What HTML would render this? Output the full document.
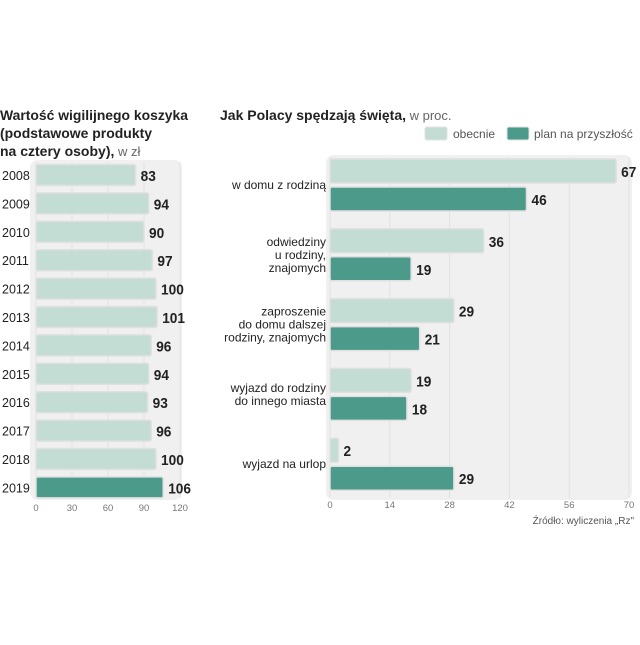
<!DOCTYPE html>
<html><head><meta charset="utf-8"><style>
body{margin:0;background:#fff;font-family:"Liberation Sans","DejaVu Sans",sans-serif;}
</style></head><body>
<svg width="640" height="640" viewBox="0 0 640 640" xmlns="http://www.w3.org/2000/svg">
<g font-size="14" fill="#222">
<text x="0" y="120" font-weight="bold" textLength="188" lengthAdjust="spacingAndGlyphs">Wartość wigilijnego koszyka</text>
<text x="0" y="138" font-weight="bold" textLength="152" lengthAdjust="spacingAndGlyphs">(podstawowe produkty</text>
<text x="0" y="156"><tspan font-weight="bold">na cztery osoby),</tspan><tspan fill="#666" font-size="13"> w zł</tspan></text>
</g>
<g>
<text x="220" y="120" font-size="14" fill="#222"><tspan font-weight="bold">Jak Polacy spędzają święta,</tspan><tspan fill="#666" font-size="13"> w proc.</tspan></text>
</g>
<g font-size="12" fill="#555">
<rect x="425" y="127" width="22" height="13" rx="2" fill="#c4ddd4" stroke="#e2e2e2"/>
<text x="453" y="138">obecnie</text>
<rect x="507" y="127" width="22" height="13" rx="2" fill="#4c9a8a" stroke="#e2e2e2"/>
<text x="534" y="138">plan na przyszłość</text>
</g>
<rect x="30" y="160" width="152" height="340" rx="8" fill="#f0f0f0"/>
<rect x="326" y="155" width="306" height="345" rx="8" fill="#f0f0f0"/>
<g id="left"></g>
<g id="right"></g>
<text x="634" y="524" text-anchor="end" font-size="10" fill="#555">Źródło: wyliczenia „Rz"</text>
</svg>
<script>
const years=["2008","2009","2010","2011","2012","2013","2014","2015","2016","2017","2018","2019"];
const basket=[83,94,90,97,100,101,96,94,93,96,100,106];
const leftTicks=[0,30,60,90,120];
const cats=[["w domu z rodziną"],["odwiedziny","u rodziny,","znajomych"],["zaproszenie","do domu dalszej","rodziny, znajomych"],["wyjazd do rodziny","do innego miasta"],["wyjazd na urlop"]];
const nowVals=[67,36,29,19,2];
const planVals=[46,19,21,18,29];
const rightTicks=[0,14,28,42,56,70];
const NS="http://www.w3.org/2000/svg";
function mk(p,t,a,txt){const e=document.createElementNS(NS,t);for(const k in a)e.setAttribute(k,a[k]);if(txt!==undefined)e.textContent=txt;p.appendChild(e);return e;}
function valText(p,x,y,v){
 const s=String(v);
 const t=mk(p,'text',{x:x,y:y,'font-size':15,'font-weight':'bold',fill:'#222',textLength:s.length*7.6,lengthAdjust:'spacingAndGlyphs'},s);
 return t;
}
const L=document.getElementById('left');
const lx=v=>36+v*(144/120);
const ly=i=>175+i*28.4;
leftTicks.forEach(t=>{
 const g=mk(L,'line',{x1:lx(t),x2:lx(t),y1:162,y2:498,stroke:'#e2e2e2','stroke-width':1});
 
 const tx=mk(L,'text',{x:lx(t),y:511,'text-anchor':'middle','font-size':9.5,fill:'#777'},t);
 
});
years.forEach((y,i)=>{
 const cy=ly(i);
 const lab=mk(L,'text',{x:2,y:cy+5,'font-size':12.5,fill:'#222'},y);
 
 const r=mk(L,'rect',{x:lx(0),y:cy-10.5,width:lx(basket[i])-lx(0),height:21,rx:2,fill:i==years.length-1?'#4c9a8a':'#c4ddd4',stroke:'#e0e0e0','stroke-width':1.5});
 
 const v=valText(L,lx(basket[i])+5,cy+6,basket[i]);
 
});
const R=document.getElementById('right');
const rx=v=>330+v*(299/70);
const gy=i=>185+i*69.8;
rightTicks.forEach(t=>{
 const g=mk(R,'line',{x1:rx(t),x2:rx(t),y1:157,y2:498,stroke:'#e2e2e2','stroke-width':1});
 
 const tx=mk(R,'text',{x:rx(t),y:508,'text-anchor':'middle','font-size':9.5,fill:'#777'},t);
 
});
cats.forEach((c,i)=>{
 const cy=gy(i);
 const n=c.length;
 c.forEach((ln,j)=>{
  const t=mk(R,'text',{x:326,y:cy+4+(j-(n-1)/2)*13,'text-anchor':'end','font-size':12,fill:'#222'},ln);
  
 });
 [[nowVals[i],'#c4ddd4',-14],[planVals[i],'#4c9a8a',14]].forEach(([v,col,off],k)=>{
  const r=mk(R,'rect',{x:rx(0),y:cy+off-12,width:rx(v)-rx(0),height:24,rx:2,fill:col,stroke:'#e0e0e0','stroke-width':1.5});
  
  const tv=valText(R,rx(v)+5,cy+off+6,v);
  
 });
});
</script>
</body></html>
